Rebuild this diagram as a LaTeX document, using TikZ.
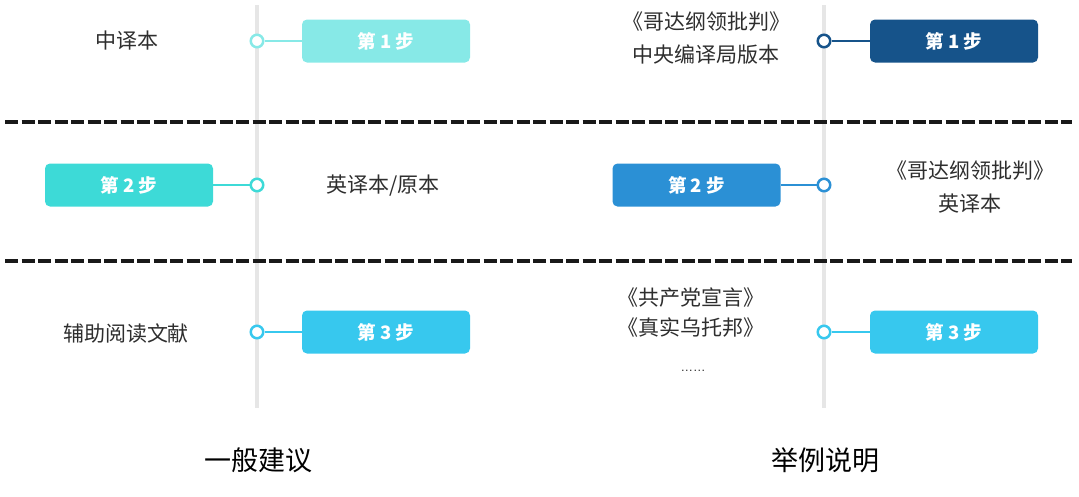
\documentclass[tikz,border=0pt]{standalone}
\usepackage{fontspec}
\newfontfamily\cjk{Noto Sans CJK SC}
\newfontfamily\latin{Liberation Sans}
\definecolor{railgray}{HTML}{E6E6E6}
\definecolor{textgray}{HTML}{2E2E2E}
\definecolor{stepA}{HTML}{87E9E7}
\definecolor{stepB}{HTML}{3DDAD7}
\definecolor{stepC}{HTML}{37C8EE}
\definecolor{stepD}{HTML}{16538A}
\definecolor{stepE}{HTML}{2B90D5}
\begin{document}
\begin{tikzpicture}[x=1pt,y=-1pt,
		stepbox/.style={rounded corners=5pt, minimum width=168pt, minimum height=43pt, inner sep=0pt, text=white, font=\cjk\bfseries\fontsize{18.5}{20}\selectfont},
		dot/.style={circle, draw=#1, fill=white, line width=2.5pt, minimum size=12.5pt, inner sep=0pt},
		link/.style={draw=#1, line width=2pt},
		note/.style={text=textgray, align=center, font=\cjk\fontsize{21}{33}\selectfont},
		title/.style={text=black, font=\cjk\fontsize{27}{30}\selectfont}]
				\useasboundingbox (0,0) rectangle (1079,496);

				\coordinate (L1) at (257,5);
				\coordinate (L2) at (257,408);
				\coordinate (R1) at (824,5);
				\coordinate (R2) at (824,408);
				\coordinate (D1) at (5,122);
				\coordinate (D2) at (1072,122);
				\coordinate (D3) at (5,261);
				\coordinate (D4) at (1072,261);

				% rails and separators
				\draw[railgray, line width=3.5pt] (L1) -- (L2);
				\draw[railgray, line width=3.5pt] (R1) -- (R2);
				\draw[black!90, line width=3.5pt, dash pattern=on 13pt off 3.5pt] (D1) -- (D2);
				\draw[black!90, line width=3.5pt, dash pattern=on 13pt off 3.5pt] (D3) -- (D4);

				% general advice
				\node[stepbox, fill=stepA] (a1) at (386,41) {第 1 步};
				\node[stepbox, fill=stepB] (a2) at (129,185) {第 2 步};
				\node[stepbox, fill=stepC] (a3) at (386,332) {第 3 步};
				\node[dot=stepA] (p1) at (257,41) {};
				\node[dot=stepB] (p2) at (257,185) {};
				\node[dot=stepC] (p3) at (257,332) {};
				\draw[link=stepA] (p1) -- (a1);
				\draw[link=stepB] (a2) -- (p2);
				\draw[link=stepC] (p3) -- (a3);
				\node[note] (t1) at (127,41) {中译本};
				\node[note] (t2) at (383,186) {英译本/原本};
				\node[note] (t3) at (126,333) {辅助阅读文献};

				% example
				\node[stepbox, fill=stepD] (b1) at (954,41) {第 1 步};
				\node[stepbox, fill=stepE] (b2) at (696.5,185) {第 2 步};
				\node[stepbox, fill=stepC] (b3) at (954,332) {第 3 步};
				\node[dot=stepD] (q1) at (824,41) {};
				\node[dot=stepE] (q2) at (824,185) {};
				\node[dot=stepC] (q3) at (824,332) {};
				\draw[link=stepD] (q1) -- (b1);
				\draw[link=stepE] (b2) -- (q2);
				\draw[link=stepC] (q3) -- (b3);
				\node[note] (u1) at (706,38.5) {《哥达纲领批判》\\中央编译局版本};
				\node[note] (u2) at (970,186.5) {《哥达纲领批判》\\英译本};
				\node[note, font=\cjk\fontsize{21}{30}\selectfont] (u3) at (691,313) {《共产党宣言》\\《真实乌托邦》};
				\node[text=textgray, font=\latin\fontsize{12.5}{14}\selectfont] (u4) at (693,371) {……};

				\node[title] (h1) at (258,460) {一般建议};
				\node[title] (h2) at (825,460) {举例说明};
			\end{tikzpicture}
\end{document}
